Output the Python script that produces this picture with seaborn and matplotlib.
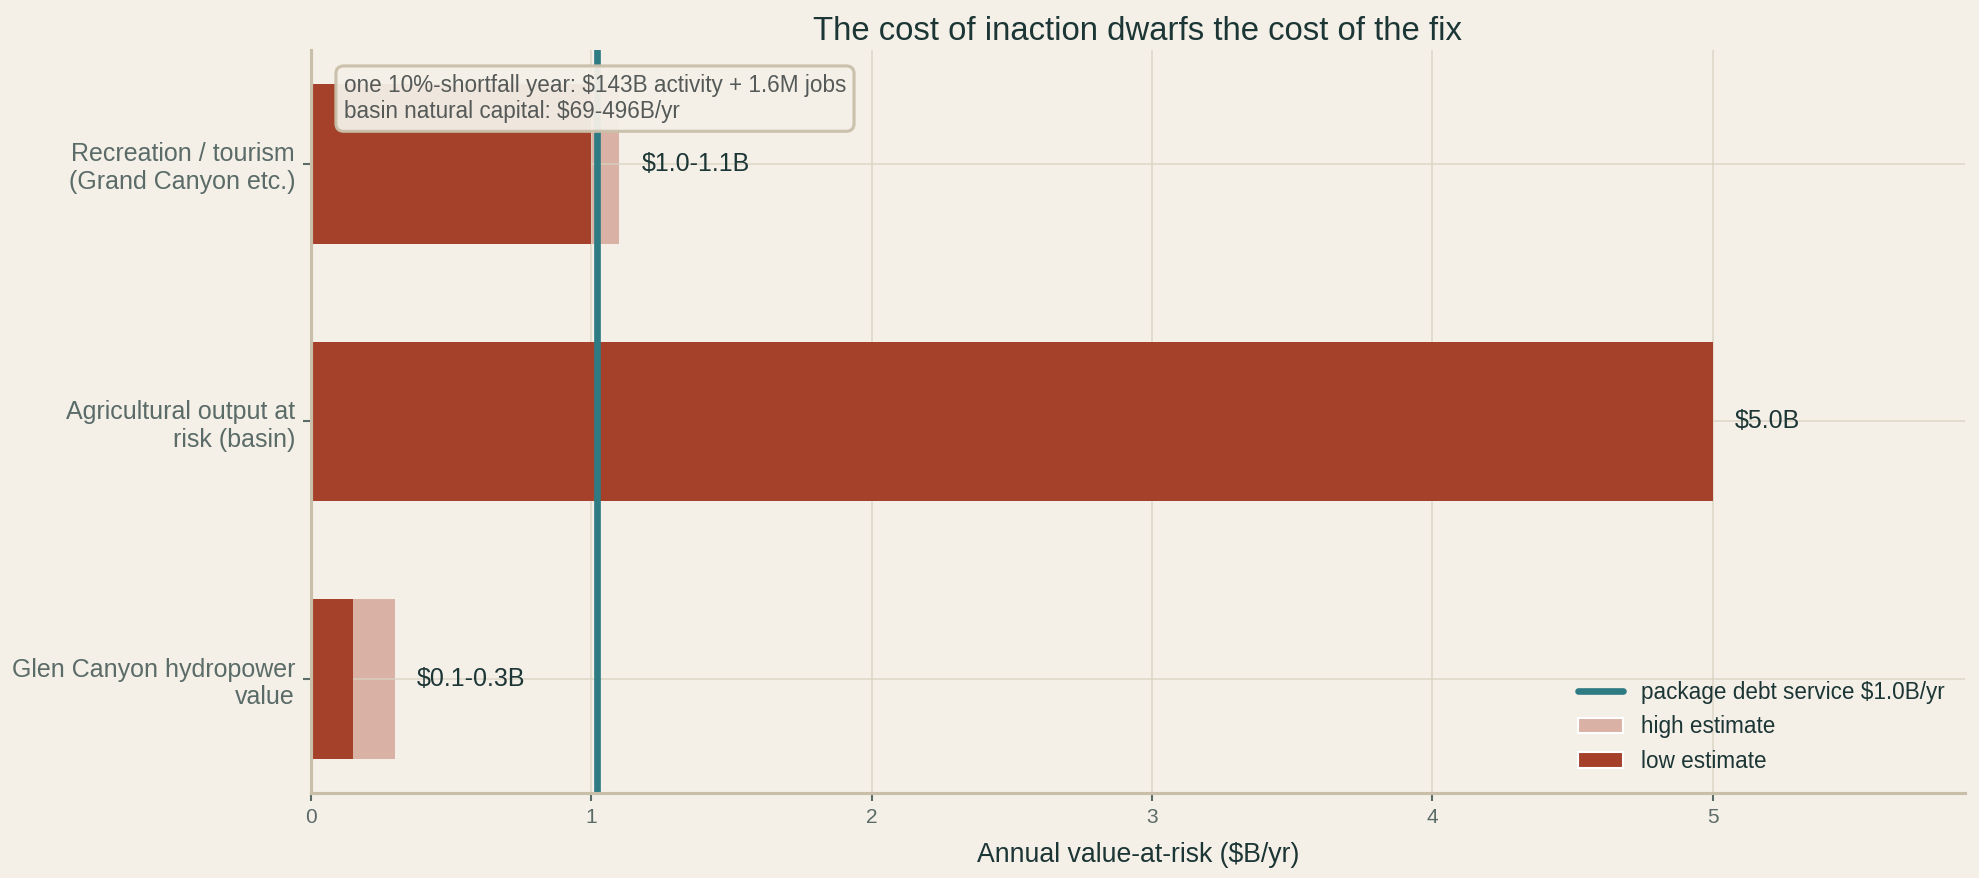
import matplotlib
matplotlib.use("Agg")
import matplotlib.pyplot as plt
from matplotlib.lines import Line2D
from matplotlib.patches import Patch
import pandas as pd
import seaborn as sns

# data
categories = [
    "Recreation / tourism\n(Grand Canyon etc.)",
    "Agricultural output at\nrisk (basin)",
    "Glen Canyon hydropower\nvalue",
]
low_vals = [1.0, 5.0, 0.15]
high_vals = [1.1, 5.0, 0.3]
value_labels = ["$1.0-1.1B", "$5.0B", "$0.1-0.3B"]
debt_service = 1.02
note_lines = [
    "one 10%-shortfall year: $143B activity + 1.6M jobs",
    "basin natural capital: $69-496B/yr",
]

df = pd.DataFrame({"cat": categories, "low": low_vals, "high": high_vals})

BG = "#f4f0e8"
DARK = "#a5412a"
LIGHT = "#d9b2a5"
TEAL = "#2e7b84"
SPINE = "#c9bfa9"
GRID = "#ddd7c6"
TXT = "#1c3535"
TICK = "#5a6b68"

sns.set_theme(style="white")
plt.rcParams["font.family"] = ["Liberation Sans", "DejaVu Sans"]

fig = plt.figure(figsize=(1979 / 150, 878 / 150), dpi=150, facecolor=BG)
ax = fig.add_axes([0.157, 0.097, 0.836, 0.846])
ax.set_facecolor(BG)

sns.barplot(data=df, x="high", y="cat", orient="h", color=LIGHT, width=0.62,
            saturation=1, linewidth=0, ax=ax, zorder=2)
sns.barplot(data=df, x="low", y="cat", orient="h", color=DARK, width=0.62,
            saturation=1, linewidth=0, ax=ax, zorder=3)

ax.axvline(debt_service, color=TEAL, lw=3.2, zorder=5)

for i, (h, lab) in enumerate(zip(high_vals, value_labels)):
    ax.text(h + 0.08, i, lab, va="center", ha="left", fontsize=12, color=TXT, zorder=6)

ax.text(0.02, 0.968, "\n".join(note_lines), transform=ax.transAxes, va="top", ha="left",
        fontsize=10.8, color="#555a58", zorder=7, linespacing=1.2,
        bbox=dict(boxstyle="round,pad=0.35", facecolor=BG, edgecolor=SPINE, lw=1.5, alpha=0.95))

ax.set_xlim(0, 5.9)
ax.set_ylim(2.441, -0.441)
ax.set_xticks([0, 1, 2, 3, 4, 5])
ax.grid(True, color="#d8d2c0", lw=0.8, alpha=0.8, zorder=4)
ax.set_axisbelow(False)
for gl in ax.get_xgridlines() + ax.get_ygridlines():
    gl.set_zorder(4)

for s in ["top", "right"]:
    ax.spines[s].set_visible(False)
for s in ["left", "bottom"]:
    ax.spines[s].set_color(SPINE)
    ax.spines[s].set_linewidth(1.5)
    ax.spines[s].set_zorder(6)

ax.tick_params(axis="x", colors=TICK, labelsize=10, length=4, width=1, bottom=True)
ax.tick_params(axis="y", colors=TICK, labelsize=12, length=4, width=1, left=True)
for t in ax.get_xticklabels() + ax.get_yticklabels():
    t.set_color(TICK)

ax.set_xlabel("Annual value-at-risk ($B/yr)", fontsize=12.8, color=TXT, labelpad=7)
ax.set_ylabel("")
ax.set_title("The cost of inaction dwarfs the cost of the fix", fontsize=15.8, color=TXT, pad=5)

handles = [
    Line2D([0], [0], color=TEAL, lw=3.2),
    Patch(facecolor=LIGHT),
    Patch(facecolor=DARK),
]
labels = ["package debt service $1.0B/yr", "high estimate", "low estimate"]
leg = ax.legend(handles, labels, loc="lower right", frameon=False, fontsize=10.8,
                bbox_to_anchor=(1.0, 0.0))
for t in leg.get_texts():
    t.set_color(TXT)

fig.savefig("out.png", dpi=150, facecolor=BG)
